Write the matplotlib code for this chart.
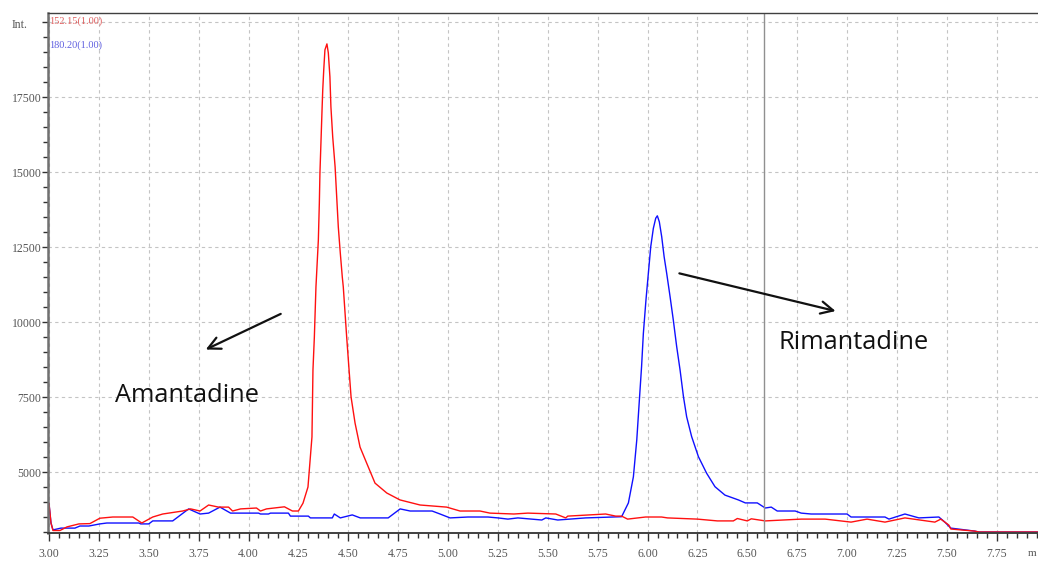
import numpy as np
import matplotlib
matplotlib.use("Agg")
import matplotlib.pyplot as plt
from matplotlib.ticker import MultipleLocator, FixedLocator

# retention time (min) / intensity
red_t = [3.000, 3.010, 3.020, 3.055, 3.090, 3.150, 3.205, 3.255, 3.320, 3.420,
         3.465, 3.520, 3.570, 3.670, 3.710, 3.757, 3.800, 3.850, 3.900, 3.920,
         3.960, 4.040, 4.060, 4.090, 4.180, 4.220, 4.250, 4.273, 4.298, 4.318,
         4.323, 4.330, 4.338, 4.350, 4.355, 4.358, 4.363, 4.368, 4.372, 4.377,
         4.383, 4.393, 4.400, 4.408, 4.413, 4.422, 4.434, 4.442, 4.450, 4.460,
         4.470, 4.475, 4.492, 4.504, 4.514, 4.534, 4.559, 4.592, 4.634, 4.693,
         4.759, 4.860, 4.993, 5.060, 5.160, 5.210, 5.330, 5.400, 5.540, 5.590,
         5.600, 5.790, 5.840, 5.870, 5.900, 5.990, 6.070, 6.100, 6.250, 6.350,
         6.430, 6.450, 6.500, 6.520, 6.590, 6.770, 6.890, 7.020, 7.100, 7.190,
         7.290, 7.440, 7.470, 7.510, 7.520, 7.640, 7.660, 7.960]
red_i = [3950, 3300, 3050, 3050, 3170, 3270, 3280, 3460, 3500, 3500,
         3300, 3500, 3600, 3700, 3770, 3700, 3900, 3830, 3830, 3700,
         3770, 3800, 3700, 3770, 3840, 3700, 3700, 3960, 4500, 6170,
         8400, 9500, 11170, 12730, 13970, 14970, 15970, 16970, 17730, 18400,
         19070, 19270, 18970, 18170, 17170, 16170, 15170, 14170, 13170, 12300,
         11500, 11170, 9500, 8400, 7500, 6630, 5830, 5300, 4630, 4300,
         4070, 3900, 3830, 3700, 3700, 3630, 3600, 3630, 3600, 3470,
         3530, 3600, 3530, 3530, 3430, 3500, 3500, 3470, 3430, 3370,
         3370, 3450, 3370, 3440, 3370, 3430, 3430, 3330, 3430, 3330,
         3470, 3330, 3430, 3230, 3100, 3030, 3000, 3000]

blue_t = [3.000, 3.010, 3.020, 3.060, 3.130, 3.155, 3.200, 3.255, 3.290, 3.450,
          3.460, 3.500, 3.520, 3.620, 3.700, 3.757, 3.800, 3.857, 3.910, 4.050,
          4.060, 4.100, 4.110, 4.200, 4.210, 4.300, 4.310, 4.420, 4.430, 4.460,
          4.520, 4.560, 4.700, 4.760, 4.810, 4.920, 4.960, 5.010, 5.100, 5.200,
          5.250, 5.300, 5.350, 5.470, 5.490, 5.550, 5.690, 5.870, 5.904, 5.929,
          5.946, 5.959, 5.970, 5.979, 5.992, 6.004, 6.016, 6.029, 6.041, 6.049,
          6.059, 6.071, 6.083, 6.096, 6.113, 6.129, 6.146, 6.163, 6.180, 6.196,
          6.221, 6.255, 6.296, 6.338, 6.388, 6.455, 6.490, 6.550, 6.590, 6.620,
          6.650, 6.740, 6.770, 6.820, 7.000, 7.020, 7.190, 7.210, 7.290, 7.360,
          7.460, 7.490, 7.520, 7.640, 7.660, 7.960]
blue_i = [3950, 3300, 3070, 3130, 3130, 3200, 3200, 3270, 3300, 3300,
          3270, 3270, 3370, 3370, 3770, 3600, 3630, 3830, 3630, 3630,
          3600, 3600, 3630, 3630, 3530, 3530, 3470, 3470, 3600, 3470,
          3570, 3470, 3470, 3770, 3700, 3700, 3600, 3470, 3500, 3500,
          3470, 3430, 3470, 3400, 3470, 3400, 3470, 3510, 3970, 4840,
          6070, 7400, 8510, 9620, 10730, 11620, 12510, 13120, 13460, 13540,
          13340, 12840, 12180, 11620, 10840, 10070, 9180, 8400, 7510, 6840,
          6180, 5510, 4960, 4510, 4230, 4070, 3970, 3970, 3800, 3830,
          3700, 3700, 3630, 3600, 3600, 3500, 3500, 3430, 3600, 3470,
          3500, 3330, 3130, 3030, 3000, 3000]

channels = ["152.15(1.00)", "180.20(1.00)"]
cursor_t = 6.585

W, H = 1038, 561
fig = plt.figure(figsize=(W / 100, H / 100), dpi=100)
ax = fig.add_axes([48 / W, 28 / H, (1040 - 48) / W, 520 / H])

ax.plot(blue_t, blue_i, color="#1010ff", lw=1.0)
ax.plot(red_t, red_i, color="#ff1010", lw=1.0)
ax.axvline(cursor_t, color="#909090", lw=1.0)

ax.set_xlim(2.995, 7.967)
ax.set_ylim(2967, 20300)

ax.xaxis.set_major_locator(MultipleLocator(0.25))
ax.xaxis.set_minor_locator(MultipleLocator(0.05))
ax.yaxis.set_major_locator(FixedLocator([5000, 7500, 10000, 12500, 15000, 17500, 20000]))
ax.yaxis.set_minor_locator(MultipleLocator(500))
ax.set_xticklabels([f"{v:.2f}" for v in ax.get_xticks()])
ax.set_yticklabels(["5000", "7500", "10000", "12500", "15000", "17500", ""])

for lab in ax.get_xticklabels() + ax.get_yticklabels():
    lab.set_family("Liberation Serif")
    lab.set_fontsize(8.5)
    lab.set_color("#555555")

ax.tick_params(axis="x", which="major", direction="out", length=6, width=1, color="#333333", pad=5)
ax.tick_params(axis="x", which="minor", direction="out", length=3.6, width=1, color="#333333")
ax.tick_params(axis="y", which="major", direction="out", length=4.3, width=1, color="#333333", pad=0.5)
ax.tick_params(axis="y", which="minor", direction="out", length=3.6, width=1, color="#333333")

ax.grid(True, which="major", color="#c4c4c4", ls=(0, (3, 3)), lw=0.8)
ax.set_axisbelow(True)

ax.spines["left"].set_color("#707070")
ax.spines["left"].set_linewidth(1.8)
ax.spines["bottom"].set_color("#404040")
ax.spines["bottom"].set_linewidth(1.4)
ax.spines["top"].set_color("#404040")
ax.spines["top"].set_linewidth(1.0)

fig.text(20 / W, 1 - 25 / H, "Int.", family="Liberation Serif", fontsize=8.5,
         color="#555555", ha="center", va="center")
fig.text(1036 / W, 1 - 553 / H, "m", family="Liberation Serif", fontsize=8,
         color="#555555", ha="right", va="center")
fig.text(49 / W, 1 - 21 / H, channels[0], family="Liberation Serif", fontsize=7.5,
         color="#e06060", ha="left", va="center")
fig.text(49 / W, 1 - 45 / H, channels[1], family="Liberation Serif", fontsize=7.5,
         color="#6060e0", ha="left", va="center")

arrow = dict(arrowstyle="->", color="#111111", lw=1.6, mutation_scale=22)
ax.annotate("", xy=(3.773, 9043), xytext=(4.174, 10310), arrowprops=arrow)
ax.annotate("", xy=(6.956, 10343), xytext=(6.146, 11643), arrowprops=arrow)
ax.text(3.331, 7333, "Amantadine", family="Open Sans", fontsize=18.3, color="#111111",
        ha="left", va="baseline")
ax.text(6.656, 9100, "Rimantadine", family="Open Sans", fontsize=18.3, color="#111111",
        ha="left", va="baseline")

fig.savefig("out.png", dpi=100)
